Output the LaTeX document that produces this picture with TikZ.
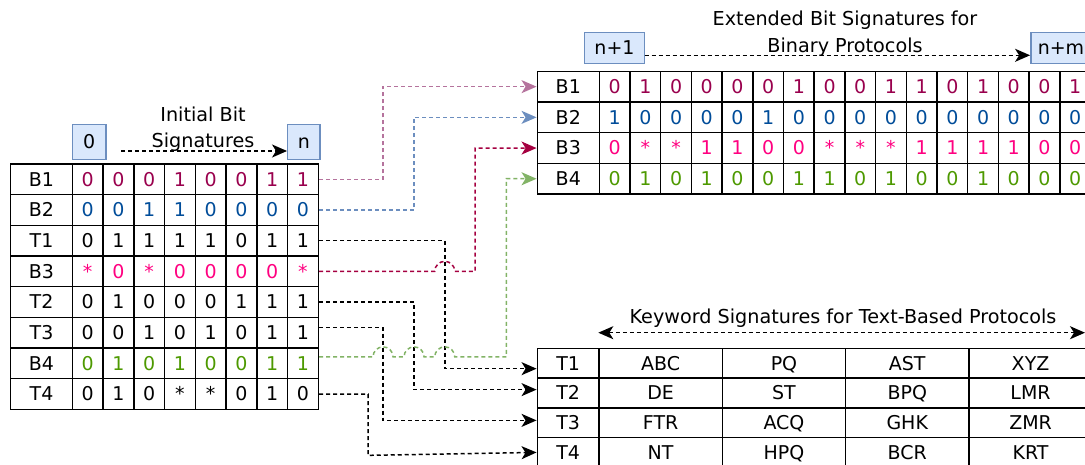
\documentclass[tikz,border=0pt]{standalone}
\usepackage{fontspec}
\setmainfont{DejaVu Sans}
\usetikzlibrary{arrows.meta,calc}
\definecolor{cBa}{HTML}{99004D}
\definecolor{cBb}{HTML}{004C99}
\definecolor{cBc}{HTML}{FF0080}
\definecolor{cBd}{HTML}{4D9900}
\definecolor{cT}{HTML}{000000}
\definecolor{lBa}{HTML}{B5739D}
\definecolor{lBb}{HTML}{6C8EBF}
\definecolor{lBc}{HTML}{A50040}
\definecolor{lBd}{HTML}{82B366}
\definecolor{boxfill}{HTML}{DAE8FC}
\definecolor{boxline}{HTML}{6C8EBF}
\begin{document}
\begin{tikzpicture}[x=1pt,y=-1pt,
  txt/.style={font=\fontsize{19.2}{22}\selectfont},
  ctxt/.style={font=\fontsize{19}{22}\selectfont,text height=13.9pt,text depth=0pt},
  cell/.style={ctxt,draw=black,line width=1.5pt,inner sep=0pt,anchor=center},
  hbox/.style={ctxt,draw=boxline,fill=boxfill,line width=1.4pt,inner sep=0pt,anchor=center},
  ahead/.style={-{Stealth[length=15pt,width=13pt,inset=4pt]}},
  conn/.style={dash pattern=on 4pt off 3pt,line width=1.5pt,ahead},
  hdr/.style={dash pattern=on 4pt off 3pt,line width=1.5pt,black}]
\useasboundingbox (0,0) rectangle (1085,465);
\clip (0,0) rectangle (1085,465);

% ---------- left table ----------
\foreach \lab/\col/\bits [count=\r] in {
  B1/cBa/{0,0,0,1,0,0,1,1},
  B2/cBb/{0,0,1,1,0,0,0,0},
  T1/cT/{0,1,1,1,1,0,1,1},
  B3/cBc/{*,0,*,0,0,0,0,*},
  T2/cT/{0,1,0,0,0,1,1,1},
  T3/cT/{0,0,1,0,1,0,1,1},
  B4/cBd/{0,1,0,1,0,0,1,1},
  T4/cT/{0,1,0,*,*,0,1,0}} {
  \node[cell,minimum width=61.6pt,minimum height=30.67pt] (L\r c0) at (41.5,{164+30.67*(\r-0.5)}) {\lab};
  \foreach \b [count=\c] in \bits {
    \node[cell,text=\col,minimum width=30.75pt,minimum height=30.67pt] (L\r c\c) at ({72.3+30.75*(\c-0.5)},{164+30.67*(\r-0.5)}) {\b};
  }
}

% ---------- extended table ----------
\foreach \lab/\col/\bits [count=\r] in {
  B1/cBa/{0,1,0,0,0,0,1,0,0,1,1,0,1,0,0,1},
  B2/cBb/{1,0,0,0,0,1,0,0,0,0,0,0,0,0,0,0},
  B3/cBc/{0,*,*,1,1,0,0,*,*,*,1,1,1,1,0,0},
  B4/cBd/{0,1,0,1,0,0,1,1,0,1,0,0,1,0,0,0}} {
  \node[cell,minimum width=62pt,minimum height=30.7pt] (E\r c0) at (568.3,{71.3+30.7*(\r-0.5)}) {\lab};
  \foreach \b [count=\c] in \bits {
    \node[cell,text=\col,minimum width=30.7pt,minimum height=30.7pt] (E\r c\c) at ({599.3+30.7*(\c-0.5)},{71.3+30.7*(\r-0.5)}) {\b};
  }
}

% ---------- keyword table ----------
\foreach \lab/\ws [count=\r] in {
  T1/{ABC,PQ,AST,XYZ},
  T2/{DE,ST,BPQ,LMR},
  T3/{FTR,ACQ,GHK,ZMR},
  T4/{NT,HPQ,BCR,KRT}} {
  \node[cell,minimum width=61.7pt,minimum height=29.75pt] (K\r c0) at (568.15,{348.3+29.75*(\r-0.5)}) {\lab};
  \foreach \w [count=\c] in \ws {
    \node[cell,minimum width=123.3pt,minimum height=29.75pt] (K\r c\c) at ({599+123.3*(\c-0.5)},{348.3+29.75*(\r-0.5)}) {\w};
  }
}

% ---------- header boxes and titles ----------
\node[hbox,minimum width=33.7pt,minimum height=34.6pt] (b0) at (89.2,142) {0};
\node[hbox,minimum width=32.3pt,minimum height=34.6pt] (bn) at (303.9,142) {n};
\node[hbox,minimum width=60.4pt,minimum height=30.6pt] (bn1) at (614.5,48) {n+1};
\node[hbox,minimum width=60.4pt,minimum height=30.6pt] (bnm) at (1061,48) {n+m};

\coordinate (ia) at (121,151);
\draw[hdr,ahead] (ia) -- (ia -| bn.west);
\coordinate (ea) at (644.7,55.3);
\draw[hdr,ahead] (ea) -- (ea -| bnm.west);
\coordinate (ka) at (598.3,332.7);
\coordinate (kb) at (1085,332.7);
\draw[hdr,{Stealth[length=15pt,width=13pt,inset=4pt]}-{Stealth[length=15pt,width=13pt,inset=4pt]}] (ka) -- (kb);

\node[txt,align=center,font=\fontsize{19.2}{26}\selectfont] (tinit) at (203,129.5) {Initial Bit\\Signatures};
\node[txt,align=center,font=\fontsize{19.2}{27}\selectfont] (text) at (845,34) {Extended Bit Signatures for\\Binary Protocols};
\node[txt] (tkey) at (843,318) {Keyword Signatures for Text-Based Protocols};

% ---------- connectors ----------
\draw[conn,lBa] (L1c8.east) -- ++(64,0) |- (E1c0.west);
\draw[conn,lBb] (L2c8.east) -- ++(95,0) |- (E2c0.west);
\draw[conn,black] (L3c8.east) -- ++(125.7,0) |- ([yshift=-5.5pt]K1c0.west);
\draw[conn,black] (L5c8.east) -- ++(95,0) |- ([yshift=3.3pt]K2c0.west);
\draw[conn,black] ([yshift=5pt]L6c8.east) -- ++(64,0) |- ([yshift=2.3pt]K3c0.west);
\draw[conn,black] (L8c8.east) -- ++(49,0) -- ++(0,61.3) -- (K4c0.west);
\draw[conn,lBc] (L4c8.east) -- ++(115.7,0) arc[start angle=180,end angle=360,radius=10] -- ++(20.3,0) |- (E3c0.west);
\draw[conn,lBd] ([yshift=6.5pt]L7c8.east) -- ++(54,0) arc[start angle=180,end angle=360,radius=10]
  -- ++(11,0) arc[start angle=180,end angle=360,radius=10]
  -- ++(10.7,0) arc[start angle=180,end angle=360,radius=10]
  -- ++(51.7,0) |- (E4c0.west);
\end{tikzpicture}
\end{document}
